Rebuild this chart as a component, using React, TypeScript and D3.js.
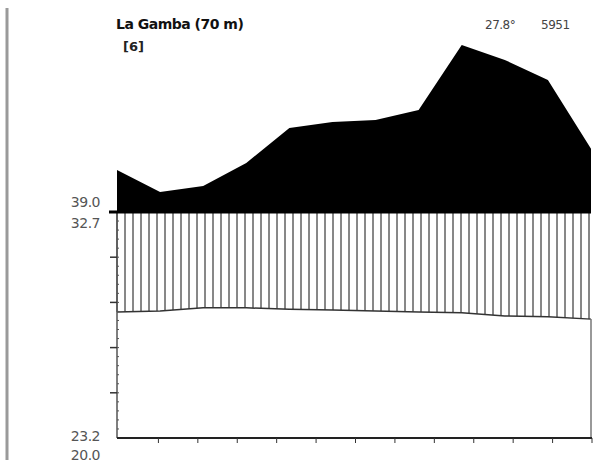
import React from "react";
import * as d3 from "d3";

// monthly climate values, La Gamba
const months = ["J", "F", "M", "A", "M", "J", "J", "A", "S", "O", "N", "D"];
const precipitation = [286, 188, 215, 317, 472, 498, 507, 551, 839, 773, 684, 380];
const temperature = [27.9, 28.1, 28.8, 28.8, 28.5, 28.3, 28.1, 27.9, 27.7, 27.0, 26.8, 26.3];
const tempTicks = [0, 10, 20, 30, 40, 50];
const topLabels = ["39.0", "32.7"];
const bottomLabels = ["23.2", "20.0"];
const stationName = "La Gamba (70 m)";
const yearsLabel = "[6]";
const annualTemp = "27.8°";
const annualPrecip = "5951";

const W = 593;
const H = 462;
const LEFT = 117;
const RIGHT = 591;
const BOTTOM = 438;
const TOP = 212; // 50 °C / 100 mm

const App = () => {
  const x = d3.scalePoint<string>().domain(months.map((m, i) => i + "")).range([LEFT, RIGHT]);
  const xs = months.map((m, i) => x(i + "") as number);
  const xTicks = d3.scaleBand<number>().domain(d3.range(12)).range([LEFT + 2, RIGHT + 1]);

  const yT = d3.scaleLinear().domain([0, 50]).range([BOTTOM, TOP]);
  // walter-lieth: 10°C = 20mm up to 100mm, then 10°C = 200mm
  const yP = d3.scaleLinear().domain([0, 100, 1100]).range([BOTTOM, TOP, yT(100)]);

  const pAt = d3.scaleLinear().domain(xs).range(precipitation);
  const tAt = d3.scaleLinear().domain(xs).range(temperature);

  const wetArea = d3.area<number>()
    .x((d, i) => xs[i])
    .y0(TOP)
    .y1((d) => yP(Math.max(d, 100)));

  const tempLine = d3.line<number>()
    .x((d, i) => xs[i])
    .y((d) => yT(d));

  const hatchX = d3.range(LEFT, RIGHT + 1, 8);
  const minor = d3.range(0, 50, 2);

  return (
    <svg width={W} height={H} style={{ position: "absolute", left: 0, top: 0, background: "#fff" }}>
      <line x1={7} x2={7} y1={8} y2={460} stroke="#9a9a9a" strokeWidth={3} />

      <text x={116} y={29} fontFamily="DejaVu Sans" fontWeight="bold" fontSize={14} fill="#111" letterSpacing={-0.5}>
        {stationName}
      </text>
      <text x={123} y={51} fontFamily="DejaVu Sans" fontWeight="bold" fontSize={13} fill="#222">
        {yearsLabel}
      </text>
      <text x={485} y={29} fontFamily="DejaVu Sans" fontSize={12} fill="#444" letterSpacing={-0.5}>
        {annualTemp}
      </text>
      <text x={541} y={29} fontFamily="DejaVu Sans" fontSize={12} fill="#444" letterSpacing={-0.5}>
        {annualPrecip}
      </text>

      {topLabels.map((t, i) => (
        <text key={"tl" + i} x={100} y={207 + i * 21} textAnchor="end" fontFamily="DejaVu Sans" fontSize={14} fill="#555" letterSpacing={-0.5}>
          {t}
        </text>
      ))}
      {bottomLabels.map((t, i) => (
        <text key={"bl" + i} x={100} y={441 + i * 19} textAnchor="end" fontFamily="DejaVu Sans" fontSize={14} fill="#555" letterSpacing={-0.5}>
          {t}
        </text>
      ))}

      {/* humid period hatch */}
      {hatchX.map((hx) => (
        <line
          key={"h" + hx}
          x1={hx}
          x2={hx}
          y1={yP(Math.min(pAt(hx), 100))}
          y2={yT(tAt(hx))}
          stroke="#111"
          strokeWidth={1}
        />
      ))}

      <path d={wetArea(precipitation) ?? ""} fill="#000" />

      <path d={tempLine(temperature) ?? ""} fill="none" stroke="#333" strokeWidth={1.5} />

      {/* axes */}
      <line x1={LEFT} x2={LEFT} y1={TOP} y2={BOTTOM} stroke="#555" strokeWidth={1.5} />
      <line x1={RIGHT} x2={RIGHT} y1={yT(temperature[11])} y2={BOTTOM} stroke="#777" strokeWidth={1.5} />
      {minor.map((t) => (
        <line key={"mi" + t} x1={LEFT} x2={LEFT + 2} y1={yT(t)} y2={yT(t)} stroke="#555" strokeWidth={1} />
      ))}
      {tempTicks.slice(1, 5).map((t) => (
        <line key={"tt" + t} x1={LEFT - 7} x2={LEFT} y1={yT(t)} y2={yT(t)} stroke="#333" strokeWidth={1.5} />
      ))}
      <line x1={LEFT - 8} x2={RIGHT} y1={TOP} y2={TOP} stroke="#000" strokeWidth={3} />
      <line x1={LEFT} x2={RIGHT + 1} y1={BOTTOM} y2={BOTTOM} stroke="#222" strokeWidth={2} />
      {d3.range(12).map((i) => {
        const tx = (xTicks(i) as number) + xTicks.bandwidth();
        return <line key={"xt" + i} x1={tx} x2={tx} y1={BOTTOM} y2={BOTTOM + 5} stroke="#333" strokeWidth={1} />;
      })}
    </svg>
  );
};

export default App;
